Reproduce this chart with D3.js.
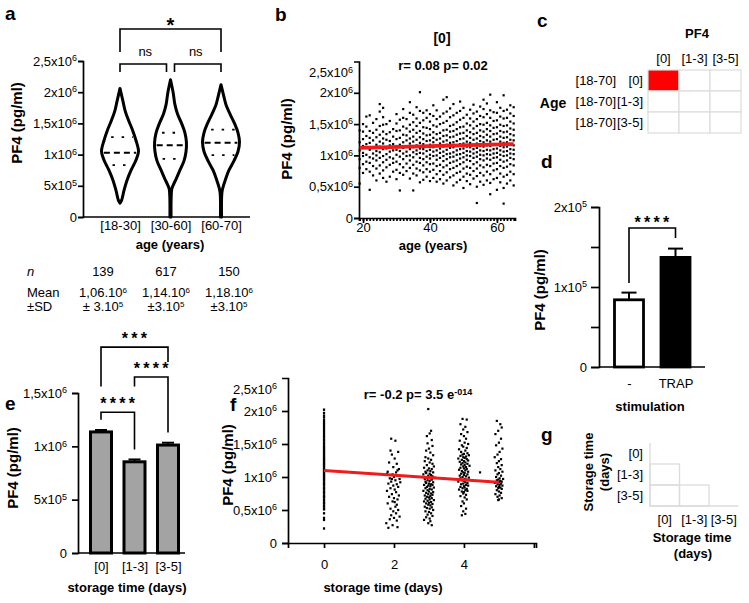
<!DOCTYPE html>
<meta charset="utf-8">
<style>
body { margin: 0; background: #fff; }
svg { font-family: 'Liberation Sans', Arial, sans-serif; }
.axis path, .axis line { stroke: #000; stroke-width: 1.7px; }
.axis text { font-size: 13px; fill: #000; font-family: 'Liberation Sans', Arial, sans-serif; }
.ttl { font-size: 13px; font-weight: bold; }
.ytl { font-size: 15px; font-weight: bold; }
.plabel { font-size: 19px; font-weight: bold; }
.lbl { font-size: 13px; }
</style>
<svg width="749" height="603"></svg>
<script src="https://cdn.jsdelivr.net/npm/d3@7"></script>
<script>

// ---------- data ----------
// a: PF4 by age group (values x10^6 pg/ml), violin outline = [value, relative width]
const ageGroups = ['[18-30]', '[30-60]', '[60-70]'];
const violin1 = [[2.06,0],[1.87,.15],[1.71,.27],[1.55,.46],[1.39,.68],[1.23,.86],[1.05,1],[0.91,.86],[0.75,.6],[0.59,.38],[0.43,.22],[0.27,.09],[0.22,0]];
const violin2 = [[2.2,0],[2.0,.14],[1.8,.24],[1.65,.38],[1.5,.6],[1.35,.78],[1.2,.86],[1.05,.84],[0.9,.73],[0.75,.51],[0.62,.32],[0.52,.16],[0.45,.07],[0.3,.035],[0,.03]];
const violin3 = [[2.12,0],[1.95,.14],[1.8,.27],[1.65,.49],[1.5,.73],[1.35,.92],[1.2,1],[1.05,.92],[0.9,.7],[0.75,.43],[0.6,.24],[0.48,.11],[0.38,.045],[0,.03]];
const aMedian = [1.03, 1.15, 1.19];
const aQ1 = [0.83, 0.93, 0.99];
const aQ3 = [1.28, 1.35, 1.40];
const aN = ['139', '617', '150'];
const aMeanLabels = ['1,06.10', '1,14.10', '1,18.10'];
const aSDLabels = ['\u00b1 3.10', '\u00b13.10', '\u00b13.10'];
const aSig = [[0, 1, 'ns'], [1, 2, 'ns'], [0, 2, '*']];
const pf4Ticks = [0, 0.5, 1, 1.5, 2, 2.5];
const aTickLabels = [['0',''],['5x10','5'],['1x10','6'],['1,5x10','6'],['2x10','6'],['2,5x10','6']];
const bTickLabels = [['0',''],['0,5x10','6'],['1x10','6'],['1,5x10','6'],['2x10','6'],['2,5x10','6']];

// b: PF4 vs age, storage [0]  (one string of values x10^4 per age)
const bAges = [19,20,21,22,23,24,25,26,27,28,29,30,31,32,33,34,35,36,37,38,39,40,41,42,43,44,45,46,47,48,49,50,51,52,53,54,55,56,57,58,59,60,61,62,63,64,65];
const bValues = [
 '55 80 94 108 121 140',
 '72 86 99 104 115 126 138 150',
 '78 90 101 112 118 131 146 162',
 '45 74 88 97 109 120 128 139 164',
 '68 83 95 103 113 124 136 152',
 '60 79 92 100 107 117 129 141 158',
 '71 84 96 105 114 122 133 147 170 182',
 '64 76 89 99 110 119 127 138 149 161 176',
 '58 81 93 102 111 125 134 150',
 '66 85 97 106 116 123 137 155',
 '74 88 95 108 118 130 142',
 '62 77 90 101 109 115 126 139 151 166',
 '44 72 86 98 107 117 128 140 157',
 '69 81 94 103 112 121 133 146 160 174',
 '75 87 99 106 114 124 132 143 158',
 '63 80 92 100 110 119 127 138 149 168 185',
 '44 71 85 97 105 113 122 130 141 153 165',
 '68 79 90 102 108 116 125 136 147 159 177',
 '57 76 88 96 104 111 120 129 139 152 171 201',
 '61 73 84 94 103 110 118 126 135 145 156 168',
 '66 78 89 98 107 115 123 132 144 160 172',
 '59 74 86 95 101 109 117 124 133 142 154 166',
 '64 77 87 99 106 113 121 128 137 148 163 180',
 '58 70 83 93 100 108 116 125 134 146 158 172',
 '62 75 85 96 104 111 119 127 136 150 162',
 '55 69 81 91 99 106 114 122 131 140 152 167 189',
 '60 73 84 94 102 109 117 124 132 141 155 170 193',
 '65 78 88 97 103 112 120 129 138 147 161 175',
 '52 68 80 90 98 105 113 121 130 139 149 164 182',
 '57 72 83 92 101 108 115 123 133 142 153 168',
 '61 74 86 95 102 110 118 126 135 145 157 171 186',
 '48 66 79 89 97 104 111 119 127 136 146 160 176',
 '59 71 82 93 100 107 114 122 131 140 151 165',
 '54 69 80 91 99 106 113 120 128 137 148 159 173',
 '63 75 86 96 103 110 117 125 134 143 154 167 181',
 '24 50 67 79 89 98 105 112 119 127 136 147 158 170',
 '58 72 84 94 101 108 115 123 131 140 150 163 178',
 '53 68 81 92 100 107 114 121 129 138 149 161 174 189',
 '60 74 85 95 102 109 116 124 133 142 152 166 183',
 '38 56 70 83 93 101 108 115 122 130 139 148 160 172 197',
 '62 76 87 96 103 110 117 125 134 144 155 169',
 '45 64 78 88 97 104 111 118 126 135 145 156 168 185',
 '57 71 83 93 101 108 115 122 130 139 149 162 176',
 '23 48 66 80 90 99 106 113 120 128 137 147 159 171 196',
 '55 69 82 92 100 107 114 121 129 138 148 160 173',
 '60 74 86 96 103 110 117 125 134 143 154 167 180',
 '52 70 84 94 102 109 116 124 132 141 151 163 177'
];
const bFitX = [19, 65];
const bFitY = [1.12, 1.18];

// c: correlation grid
const cCols = ['[0]', '[1-3]', '[3-5]'];
const cRowAge = ['[18-70]', '[18-70]', '[18-70]'];
const cRowStore = ['[0]', '[1-3]', '[3-5]'];
const cValues = [[1, 0, 0], [0, 0, 0], [0, 0, 0]];

// d: stimulation (x10^5 pg/ml)
const dCats = ['-', 'TRAP'];
const dMeans = [0.84, 1.37];
const dErr = [0.09, 0.11];
const dTicks = [0, 0.5, 1, 1.5, 2];
const dTickLabels = [['0',''],['',''],['1x10','5'],['',''],['2x10','5']];

// e: storage time bars (x10^6 pg/ml)
const eCats = ['[0]', '[1-3]', '[3-5]'];
const eMeans = [1.135, 0.855, 1.012];
const eErr = [0.018, 0.022, 0.022];
const eTicks = [0, 0.5, 1, 1.5];
const eTickLabels = [['0',''],['5x10','5'],['1x10','6'],['1,5x10','6']];
const eSig = [[0, 1, '****'], [1, 2, '****'], [0, 2, '***']];

// f: PF4 vs storage time; day 0 values x10^4, other days "dx/value" (dx in 1/100 day)
const fDay0 = '22 35 38 45 51 52 55 57 60 61 64 66 69 70 72 75 77 78 81 83 84 87 89 90 92 95 96 98 100 101 103 105 107 108 110 112 113 115 117 119 120 122 124 126 127 129 131 133 135 137 139 141 143 145 147 150 152 155 157 160 162 165 168 171 174 177 180 183 186 190 193 197 202';
const fDays = [2, 3, 4, 5];
const fClusters = [
 '-8/158 4/155 -10/140 -6/134 12/138 2/128 -14/122 8/120 -2/115 14/112 -18/108 6/107 -4/104 10/102 0/100 -12/98 16/97 4/95 -8/93 -16/90 8/89 -2/87 12/85 -10/83 2/81 -20/79 6/77 -6/74 14/72 -14/70 0/68 10/66 -4/63 -18/60 8/58 4/55 -10/52 12/50 -2/48 6/45 -8/42 16/40 0/38 -12/36 8/34 -22/30 -4/27 10/24 -16/23 2/62 -6/97 10/110 -20/105 18/92',
 '-2/203 6/170 2/166 -6/162 8/156 -4/151 10/147 0/143 -8/140 4/137 12/133 -10/130 -2/128 6/126 -12/124 2/122 10/120 -6/118 14/116 -14/114 0/113 8/112 -4/110 4/109 -10/108 12/107 -8/106 2/105 -16/104 6/103 -2/102 10/101 0/100 -6/99 16/99 4/98 -12/97 8/96 -4/95 2/94 -10/93 12/92 -8/91 0/90 6/89 -14/88 10/88 -2/87 4/86 -6/85 14/84 -10/83 2/82 8/81 -4/80 -16/79 0/78 12/77 -8/76 6/75 -2/74 10/73 -12/72 4/71 -6/70 0/69 8/68 -10/67 2/66 14/65 -4/64 -14/63 6/62 0/61 -8/60 10/59 -2/58 4/57 -12/55 8/54 -6/53 2/52 12/50 -10/48 0/47 6/45 -4/43 10/41 -8/39 2/37 -14/35 4/33 -2/30 8/27',
 '-4/188 8/187 -10/180 4/176 -2/172 10/168 -8/165 0/162 6/158 -12/155 2/152 12/150 -6/148 -2/146 8/144 -14/142 4/140 -8/138 10/136 0/135 -4/134 14/133 -10/132 6/131 -2/130 2/129 -16/128 8/127 -6/126 12/125 0/124 -12/123 4/122 -4/121 10/120 -8/119 2/118 16/117 -2/116 6/115 -10/114 0/113 8/112 -14/111 4/110 -6/109 12/108 -2/107 2/106 -8/105 10/104 0/103 -12/102 6/101 -4/100 14/99 -10/98 2/97 8/96 -6/95 0/94 -16/93 4/92 10/91 -2/90 -8/89 6/88 12/87 0/86 -10/85 2/84 -4/83 8/82 -14/81 4/80 10/79 -6/78 0/77 -2/75 6/73 -10/71 2/69 8/66 -4/63 0/60 -8/56 6/52 -2/48 4/44 -6/42 46/107',
 '-6/185 4/180 8/175 -2/170 -10/165 6/158 0/152 -8/148 10/143 2/138 -4/134 -12/130 6/127 0/124 -6/121 8/118 -2/115 4/112 -10/110 10/108 0/106 -4/104 6/102 -8/100 2/98 12/97 -2/96 -6/95 4/94 8/93 0/92 -12/91 6/90 -4/89 2/88 10/87 -8/86 0/85 4/84 -2/83 8/82 -6/80 0/78 6/76 -10/74 2/72 -4/70 8/68 0/66 -2/65'
];
const fFitX = [0, 5];
const fFitY = [1.1, 0.92];
const fTicks = [0, 2, 4, 6];
const fTickLabels = ['0', '2', '4', ''];

// g: empty lower-triangle grid
const gCats = ['[0]', '[1-3]', '[3-5]'];

// ---------- helpers ----------
const svg = d3.select('svg');

function sup(text, base, exp, size) {
  text.text(null);
  text.append('tspan').text(base);
  if (exp) text.append('tspan').attr('dy', '-0.5em').attr('font-size', size || 9).text(exp);
}

function yAxisSup(g, scale, ticks, labels, size, pad) {
  g.call(d3.axisLeft(scale).tickValues(ticks).tickSize(size).tickPadding(pad));
  g.selectAll('.tick text').each(function(d, i) { sup(d3.select(this), labels[i][0], labels[i][1]); });
}

function plabel(x, y, t) {
  svg.append('text').attr('class', 'plabel').attr('x', x).attr('y', y).text(t);
}

function text(cls, x, y, t, anchor) {
  return svg.append('text').attr('class', cls).attr('x', x).attr('y', y)
    .attr('text-anchor', anchor || 'middle').text(t);
}

function vtext(x, y, t, cls) {
  return svg.append('text').attr('class', cls || 'ytl').attr('text-anchor', 'middle')
    .attr('transform', 'translate(' + x + ',' + y + ') rotate(-90)').attr('dy', '0.35em').text(t);
}

function bracket(x1, x2, yTop, yL, yR) {
  svg.append('path')
    .attr('d', 'M' + x1 + ',' + yL + 'V' + yTop + 'H' + x2 + 'V' + yR)
    .attr('fill', 'none').attr('stroke', '#000').attr('stroke-width', 1.6);
}

function stars(x, y, t, size) {
  svg.append('text').attr('x', x + 1.5).attr('y', y).attr('text-anchor', 'middle')
    .attr('font-size', size || 16).attr('font-weight', 'bold')
    .attr('letter-spacing', 3.3).text(t);
}

function hline(x1, x2, y) {
  svg.append('line').attr('x1', x1).attr('x2', x2).attr('y1', y).attr('y2', y)
    .attr('stroke', '#000').attr('stroke-width', 1.7);
}

// ---------- panel a ----------
plabel(5, 20, 'a');
const ya = d3.scaleLinear().domain([0, 2.5]).range([217, 61]);
const xa = d3.scalePoint().domain(ageGroups).range([120, 221]);
const wa = d3.scaleLinear().domain([0, 1]).range([0, 18.5]);

svg.append('g').attr('class', 'axis').attr('transform', 'translate(83,0)')
  .call(g => yAxisSup(g, ya, pf4Ticks, aTickLabels, 5, 1));
svg.append('g').attr('class', 'axis').attr('transform', 'translate(0,217)')
  .call(d3.axisBottom(xa).tickSize(0).tickPadding(4))
  .call(g => g.select('.domain').remove());
hline(83, 250, 217);

[violin1, violin2, violin3].forEach((v, i) => {
  const cx = xa(ageGroups[i]);
  const area = d3.area().curve(d3.curveCatmullRom)
    .y(d => ya(d[0])).x0(d => cx - wa(d[1])).x1(d => cx + wa(d[1]));
  svg.append('path').datum(v).attr('d', area)
    .attr('fill', '#fff').attr('stroke', '#000').attr('stroke-width', 3).attr('stroke-linejoin', 'round');
  const widthAt = d3.scaleLinear().domain(v.map(d => d[0])).range(v.map(d => d[1]));
  [[aMedian[i], '6,4'], [aQ1[i], '2.5,8'], [aQ3[i], '2.5,8']].forEach(([m, dash]) => {
    const w = wa(widthAt(m)) - 2;
    svg.append('line').attr('x1', cx - w).attr('x2', cx + w).attr('y1', ya(m)).attr('y2', ya(m))
      .attr('stroke', '#000').attr('stroke-width', 1.8).attr('stroke-dasharray', dash)
      .attr('stroke-dashoffset', dash === '6,4' ? 0 : -4);
  });
});

aSig.forEach(([i, j, t]) => {
  const x1 = xa(ageGroups[i]), x2 = xa(ageGroups[j]);
  if (t === 'ns') {
    const l = i === 0 ? x1 : x1 + 4, r = j === 2 ? x2 : x2 - 4;
    bracket(l, r, 64, 72, 72);
    text('lbl', (x1 + x2) / 2, 56, t);
  } else {
    bracket(x1, x2, 29, 52, 52);
    svg.append('text').attr('x', (x1 + x2) / 2).attr('y', 32).attr('text-anchor', 'middle')
      .attr('font-size', 20).attr('font-weight', 'bold').text(t);
  }
});

vtext(17, 123, 'PF4 (pg/ml)');
text('ttl', 170, 249, 'age (years)');

// table under a
const colX = d3.scalePoint().domain(ageGroups).range([103, 229]);
text('lbl', 27, 276, 'n', 'start').attr('font-style', 'italic');
text('lbl', 27, 297, 'Mean', 'start');
text('lbl', 27, 311, '\u00b1SD', 'start');
ageGroups.forEach((g, i) => {
  text('lbl', colX(g), 276, aN[i]);
  sup(text('lbl', colX(g), 297, ''), aMeanLabels[i], '6', 8);
  sup(text('lbl', colX(g), 311, ''), aSDLabels[i], '5', 8);
});

// ---------- panel b ----------
plabel(275, 21, 'b');
const xb = d3.scaleLinear().domain([18.8, 65.4]).range([359, 515]);
const yb = d3.scaleLinear().domain([0, 2.5]).range([218, 61.5]);

svg.append('g').attr('class', 'axis').attr('transform', 'translate(359,0)')
  .call(g => yAxisSup(g, yb, pf4Ticks, bTickLabels, 5, 1))
  .call(g => g.selectAll('.tick').filter(d => d === 2.5).select('text').attr('transform', 'translate(0,11)'))
  .call(g => g.selectAll('.tick').filter(d => d === 2.5).select('line').remove());
svg.append('g').attr('class', 'axis').attr('transform', 'translate(0,218)')
  .call(d3.axisBottom(xb).tickValues(bAges).tickSize(3).tickFormat(''))
  .call(g => g.selectAll('line').attr('stroke-width', 1.3));
svg.append('g').attr('class', 'axis').attr('transform', 'translate(0,218)')
  .call(d3.axisBottom(xb).tickValues([20, 40, 60]).tickSize(5).tickPadding(0))
  .call(g => g.select('.domain').remove());

const gb = svg.append('g');
bAges.forEach((age, i) => {
  bValues[i].split(' ').map(Number).forEach(v => {
    gb.append('rect').attr('x', xb(age) - 1.1).attr('y', yb(v / 100) - 1.1)
      .attr('width', 2.2).attr('height', 2.2).attr('fill', '#000');
  });
});
svg.append('line').attr('x1', xb(bFitX[0])).attr('x2', xb(bFitX[1]))
  .attr('y1', yb(bFitY[0])).attr('y2', yb(bFitY[1]))
  .attr('stroke', '#ee1c1c').attr('stroke-width', 3.8);

svg.append('text').attr('x', 442).attr('y', 43).attr('text-anchor', 'middle')
  .attr('font-size', 14).attr('font-weight', 'bold').text('[0]');
text('ttl', 443, 70, 'r= 0.08 p= 0.02');
vtext(287, 139, 'PF4 (pg/ml)');
text('ttl', 433, 250, 'age (years)');

// ---------- panel c ----------
plabel(537, 27, 'c');
const xc = d3.scaleBand().domain(cCols).range([648, 741]);
const yc = d3.scaleBand().domain(cRowStore).range([70, 133]);
const color = d3.scaleLinear().domain([0, 1]).range(['#ffffff', '#ff0000']);
cRowStore.forEach((r, i) => {
  cCols.forEach((c, j) => {
    svg.append('rect').attr('x', xc(c)).attr('y', yc(r))
      .attr('width', xc.bandwidth()).attr('height', yc.bandwidth())
      .attr('fill', color(cValues[i][j])).attr('stroke', '#dcdcdc').attr('stroke-width', 1.2);
  });
  text('lbl', 616, yc(r) + yc.bandwidth() / 2 + 4.5, cRowAge[i], 'end');
  text('lbl', 643, yc(r) + yc.bandwidth() / 2 + 4.5, r, 'end');
});
cCols.forEach(c => text('lbl', xc(c) + xc.bandwidth() / 2, 63, c));
text('ttl', 697, 38, 'PF4');
svg.append('text').attr('x', 553).attr('y', 108).attr('text-anchor', 'middle')
  .attr('font-size', 14).attr('font-weight', 'bold').text('Age');

// ---------- panel d ----------
plabel(541, 168, 'd');
const yd = d3.scaleLinear().domain([0, 2]).range([367, 207]);
const xd = d3.scalePoint().domain(dCats).range([629, 675.5]);
svg.append('g').attr('class', 'axis').attr('transform', 'translate(599,0)')
  .call(g => yAxisSup(g, yd, dTicks, dTickLabels, 8, 4));
svg.append('g').attr('class', 'axis').attr('transform', 'translate(0,367)')
  .call(d3.axisBottom(xd).tickSize(0).tickPadding(12))
  .call(g => g.select('.domain').remove());
hline(599, 705, 367);
dCats.forEach((c, i) => {
  const cx = xd(c);
  svg.append('line').attr('x1', cx).attr('x2', cx).attr('y1', yd(dMeans[i])).attr('y2', yd(dMeans[i] + dErr[i]))
    .attr('stroke', '#000').attr('stroke-width', 2);
  svg.append('line').attr('x1', cx - 7.5).attr('x2', cx + 7.5).attr('y1', yd(dMeans[i] + dErr[i])).attr('y2', yd(dMeans[i] + dErr[i]))
    .attr('stroke', '#000').attr('stroke-width', 2);
  svg.append('rect').attr('x', cx - 14.5).attr('width', 29).attr('y', yd(dMeans[i]))
    .attr('height', yd(0) - yd(dMeans[i])).attr('fill', i === 0 ? '#fff' : '#000')
    .attr('stroke', '#000').attr('stroke-width', 2.8);
});
bracket(xd(dCats[0]), xd(dCats[1]), 228, 283, 238);
stars(652, 228, '****');
vtext(540, 290, 'PF4 (pg/ml)');
text('ttl', 650, 411, 'stimulation');

// ---------- panel e ----------
plabel(5, 410, 'e');
const ye = d3.scaleLinear().domain([0, 1.5]).range([553, 393]);
const xe = d3.scalePoint().domain(eCats).range([101, 168]);
svg.append('g').attr('class', 'axis').attr('transform', 'translate(78,0)')
  .call(g => yAxisSup(g, ye, eTicks, eTickLabels, 6, 5));
svg.append('g').attr('class', 'axis').attr('transform', 'translate(0,553)')
  .call(d3.axisBottom(xe).tickSize(0).tickPadding(9))
  .call(g => g.select('.domain').remove());
hline(78, 185, 553);
eCats.forEach((c, i) => {
  const cx = xe(c), top = ye(eMeans[i] + eErr[i]);
  svg.append('line').attr('x1', cx).attr('x2', cx).attr('y1', ye(eMeans[i])).attr('y2', top)
    .attr('stroke', '#000').attr('stroke-width', 2);
  svg.append('line').attr('x1', cx - 6).attr('x2', cx + 6).attr('y1', top).attr('y2', top)
    .attr('stroke', '#000').attr('stroke-width', 2);
  svg.append('rect').attr('x', cx - 10.5).attr('width', 21).attr('y', ye(eMeans[i]))
    .attr('height', ye(0) - ye(eMeans[i])).attr('fill', '#a3a3a3')
    .attr('stroke', '#000').attr('stroke-width', 3);
});
// bracket levels (x10^6): top, left leg end, right leg end
const eBr = [[1.32, 1.25, 0.97], [1.65, 1.56, 1.13], [1.93, 1.56, 1.79]];
eSig.forEach(([i, j, t], k) => {
  const x1 = xe(eCats[i]), x2 = xe(eCats[j]);
  bracket(x1, x2, ye(eBr[k][0]), ye(eBr[k][1]), ye(eBr[k][2]));
  stars((x1 + x2) / 2, ye(eBr[k][0]) - 3, t);
});
vtext(13, 468, 'PF4 (pg/ml)');
text('ttl', 127, 592, 'storage time (days)');

// ---------- panel f ----------
plabel(230, 411, 'f');
const xf = d3.scaleLinear().domain([-1.03, 6.06]).range([288, 536]);
const yf = d3.scaleLinear().domain([0, 2.5]).range([543, 378]);
svg.append('g').attr('class', 'axis').attr('transform', 'translate(288,0)')
  .call(g => yAxisSup(g, yf, pf4Ticks, bTickLabels, 6, 5))
  .call(g => g.selectAll('.tick').filter(d => d === 2.5).select('text').attr('transform', 'translate(0,11)'))
  .call(g => g.selectAll('.tick').filter(d => d === 2.5).select('line').remove());
svg.append('g').attr('class', 'axis').attr('transform', 'translate(0,543)')
  .call(d3.axisBottom(xf).tickValues(fTicks).tickSize(5).tickPadding(12).tickFormat((d, i) => fTickLabels[i]));

const gf = svg.append('g');
fDay0.split(' ').map(Number).forEach(v => {
  gf.append('rect').attr('x', xf(0) - 1.1).attr('y', yf(v / 100) - 1.2)
    .attr('width', 2.2).attr('height', 2.4).attr('fill', '#000');
});
fDays.forEach((day, k) => {
  fClusters[k].split(' ').forEach(tok => {
    const [dx, v] = tok.split('/').map(Number);
    gf.append('rect').attr('x', xf(day + dx / 100) - 1.1).attr('y', yf(v / 100) - 1.1)
      .attr('width', 2.2).attr('height', 2.2).attr('fill', '#000');
  });
});
svg.append('line').attr('x1', xf(fFitX[0])).attr('x2', xf(fFitX[1]))
  .attr('y1', yf(fFitY[0])).attr('y2', yf(fFitY[1]))
  .attr('stroke', '#ee1c1c').attr('stroke-width', 3);
sup(text('ttl', 418, 399, ''), 'r= -0.2 p= 3.5 e', '-014', 9);
vtext(228, 465, 'PF4 (pg/ml)');
text('ttl', 383, 592, 'storage time (days)');

// ---------- panel g ----------
plabel(541, 441, 'g');
const xg = d3.scaleBand().domain(gCats).range([650, 738.5]);
const yg = d3.scaleBand().domain(gCats).range([443, 506]);
gCats.forEach((r, i) => {
  gCats.forEach((c, j) => {
    if (j < i) {
      svg.append('rect').attr('x', xg(c)).attr('y', yg(r))
        .attr('width', xg.bandwidth()).attr('height', yg.bandwidth())
        .attr('fill', 'none').attr('stroke', '#dcdcdc').attr('stroke-width', 1.3);
    }
  });
  text('lbl', 643, yg(r) + yg.bandwidth() / 2 + 4.5, r, 'end');
  text('lbl', xg(r) + xg.bandwidth() / 2, 524, r);
});
svg.append('path').attr('d', 'M650,443V506H738.5').attr('fill', 'none')
  .attr('stroke', '#dcdcdc').attr('stroke-width', 1.3);
vtext(588, 472, 'Storage time', 'ttl');
vtext(604, 472, '(days)', 'ttl');
text('ttl', 692, 542, 'Storage time');
text('ttl', 693, 558, '(days)');

</script>
